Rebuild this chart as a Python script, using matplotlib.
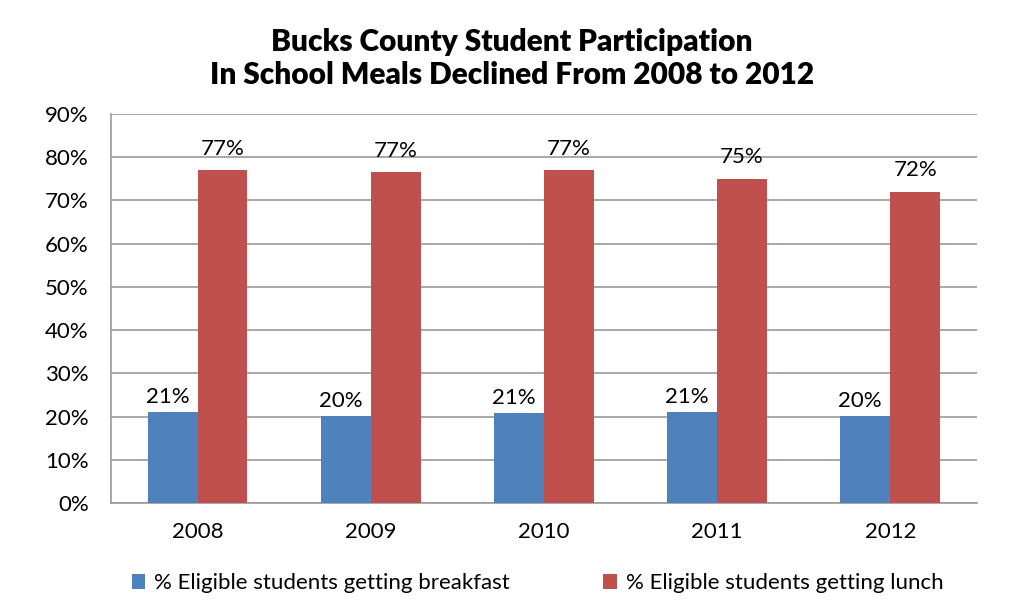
import matplotlib.pyplot as plt
import numpy as np

plt.rcParams['font.family'] = ['Lato', 'DejaVu Sans']

years = ['2008', '2009', '2010', '2011', '2012']
breakfast = [21.1, 20.1, 20.8, 21.1, 20.1]
lunch = [77.0, 76.5, 77.0, 75.0, 72.0]
breakfast_labels = ['21%', '20%', '21%', '21%', '20%']
lunch_labels = ['77%', '77%', '77%', '75%', '72%']

fig = plt.figure(figsize=(10.24, 6.16), dpi=100)
ax = fig.add_axes([0.1084, 0.1834, 0.8456, 0.6316])

x = np.arange(len(years))
w = 0.288
b1 = ax.bar(x - w / 2, breakfast, w, color='#4F81BD', label='% Eligible students getting breakfast', zorder=3)
b2 = ax.bar(x + w / 2, lunch, w, color='#C0504D', label='% Eligible students getting lunch', zorder=3)

# value labels above each bar
for rect, lab in zip(b1, breakfast_labels):
    ax.text(rect.get_x() + rect.get_width() / 2 - 0.03, rect.get_height() + 2.1, lab,
            ha='center', va='baseline', fontsize=16)
for rect, lab in zip(b2, lunch_labels):
    ax.text(rect.get_x() + rect.get_width() / 2, rect.get_height() + 3.6, lab,
            ha='center', va='baseline', fontsize=16)

ax.set_xlim(-0.5, 4.5)
ax.set_ylim(0, 90)
ax.set_yticks(range(0, 91, 10))
ax.set_yticklabels([f'{v}%' for v in range(0, 91, 10)])
ax.set_xticks(x)
ax.set_xticklabels(years)
ax.tick_params(axis='both', labelsize=16, length=0)
ax.tick_params(axis='y', pad=16)
ax.tick_params(axis='x', pad=14)
ax.yaxis.grid(True, color='#9A9A9A', linewidth=1.2, zorder=0)
for s in ['top', 'right']:
    ax.spines[s].set_visible(False)
ax.spines['left'].set_color('#9A9A9A')
ax.spines['bottom'].set_color('#9A9A9A')
ax.spines['left'].set_linewidth(1.2)
ax.spines['bottom'].set_linewidth(1.2)

fig.suptitle('Bucks County Student Participation\nIn School Meals Declined From 2008 to 2012',
             fontsize=21.5, fontweight='heavy', y=0.955, linespacing=1.25)

fig.legend(loc='center', bbox_to_anchor=(0.525, 0.053), ncol=2, frameon=False,
           fontsize=16, handlelength=0.6, handleheight=0.6, handletextpad=0.4,
           columnspacing=4.2)

fig.savefig('out.png', dpi=100)
